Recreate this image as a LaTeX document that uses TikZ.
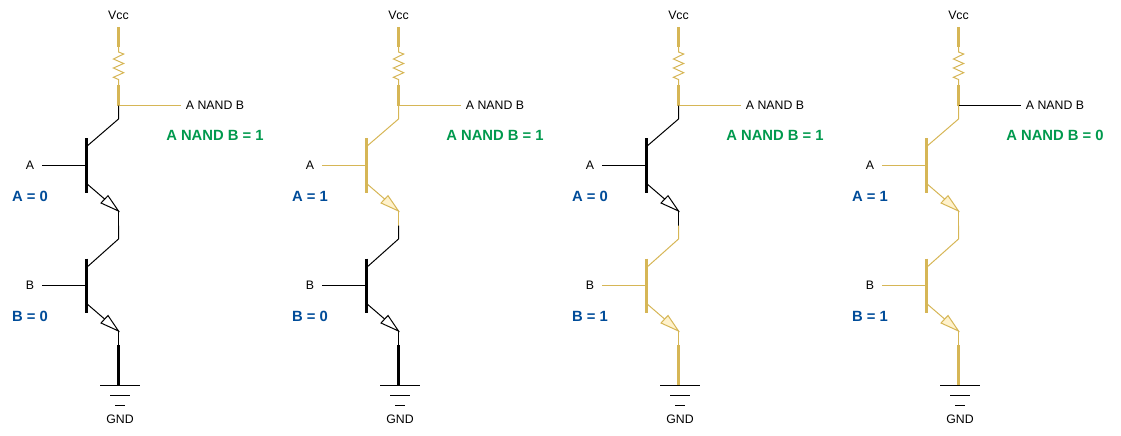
\documentclass[tikz,border=0pt]{standalone}
\usepackage{fontspec}
\setmainfont{Liberation Sans}
\definecolor{gold}{HTML}{D6B656}
\definecolor{goldfill}{HTML}{FFF2CC}
\definecolor{lblblue}{HTML}{004C99}
\definecolor{lblgreen}{HTML}{00994D}
\tikzset{
  x=1pt,y=-1pt,
  wire/.style={line width=1pt,line cap=butt},
  thick wire/.style={line width=3.6pt,line cap=butt},
  bar/.style={line width=3pt,line cap=butt},
  tiny text/.style={font=\fontsize{12.3}{14}\selectfont,text=black,inner sep=0pt},
  state/.style={font=\fontsize{14.8}{17}\selectfont\bfseries,inner sep=0pt},
}
\newcommand{\panel}[9]{%
\begin{scope}[xshift=#2pt]
  \node[tiny text] (vcc#1) at (118.5,15) {Vcc};
  \node[tiny text] (out#1) at (215,105) {A NAND B};
  \coordinate (r1#1) at (118.5,47);
  \coordinate (j#1) at (118.5,105.5);
  \coordinate (c1#1) at (118.5,119);
  \coordinate (k1#1) at (86,147);
  \coordinate (e1#1) at (86,183);
  \coordinate (t1#1) at (118.5,211);
  \coordinate (m#1) at (118.5,225.5);
  \coordinate (c2#1) at (118.5,239);
  \coordinate (k2#1) at (86,268);
  \coordinate (e2#1) at (86,303);
  \coordinate (t2#1) at (118.5,331);
  \coordinate (g0#1) at (118.5,345);
  \coordinate (g1#1) at (118.5,385);
  \coordinate (b1#1) at (86,165.5);
  \coordinate (b2#1) at (86,285.5);
  \foreach \v/\s/\y in {#9}{
    \node[tiny text] (la#1) at (30,165) {A};
    \node[tiny text] (lb#1) at (30,285.5) {B};
    \node[state,text=lblblue] (va#1) at (30,196) {A = \v};
    \node[state,text=lblblue] (vb#1) at (30,316) {B = \s};
    \node[state,text=lblgreen] (vo#1) at (215,135) {A NAND B = \y};
  }
  \node[tiny text] (gnd#1) at (120,419) {GND};
  % supply and resistor
  \draw[thick wire,gold] (118.5,27) -- (r1#1);
  \draw[wire,gold,line join=miter] (r1#1) -- (118.5,52) -- (123.7,54) -- (113.4,59) -- (123.7,63.5) -- (113.4,68) -- (123.7,72.7) -- (113.4,77.3) -- (118.5,79.5) -- (118.5,85);
  \draw[thick wire,gold] (118.5,85) -- (j#1);
  % output
  \draw[wire,#8] (j#1) -- (181,105.5);
  % upper transistor
  \draw[wire,#3] (j#1) -- (c1#1) -- (k1#1);
  \draw[bar,#3] (86,138) -- (86,192.5);
  \draw[wire,#3] (42,165.5) -- (b1#1);
  \draw[wire,#3] (e1#1) -- (t1#1);
  \draw[wire,#3,fill=#4,line join=miter] (t1#1) -- (108,195.7) -- (101,203) -- cycle;
  \draw[wire,#3] (t1#1) -- (m#1);
  % lower transistor
  \draw[wire,#5] (m#1) -- (c2#1) -- (k2#1);
  \draw[bar,#5] (86,258.5) -- (86,312.5);
  \draw[wire,#5] (42,285.5) -- (b2#1);
  \draw[wire,#5] (e2#1) -- (t2#1);
  \draw[wire,#5,fill=#6,line join=miter] (t2#1) -- (108,315.5) -- (101,323) -- cycle;
  \draw[wire,#5] (t2#1) -- (g0#1);
  \draw[thick wire,#7] (g0#1) -- (g1#1);
  % ground
  \draw[wire,black] (100,385.5) -- (140,385.5);
  \draw[wire,black] (110,395.5) -- (130,395.5);
  \draw[wire,black] (115,405.5) -- (125,405.5);
\end{scope}}
\begin{document}
\begin{tikzpicture}
\useasboundingbox (0,0) rectangle (1121,436);
\panel{p}{0}{black}{white}{black}{white}{black}{gold}{0/0/1}
\panel{q}{280}{gold}{goldfill}{black}{white}{black}{gold}{1/0/1}
\panel{r}{560}{black}{white}{gold}{goldfill}{gold}{gold}{0/1/1}
\panel{s}{840}{gold}{goldfill}{gold}{goldfill}{gold}{black}{1/1/0}
\end{tikzpicture}
\end{document}
